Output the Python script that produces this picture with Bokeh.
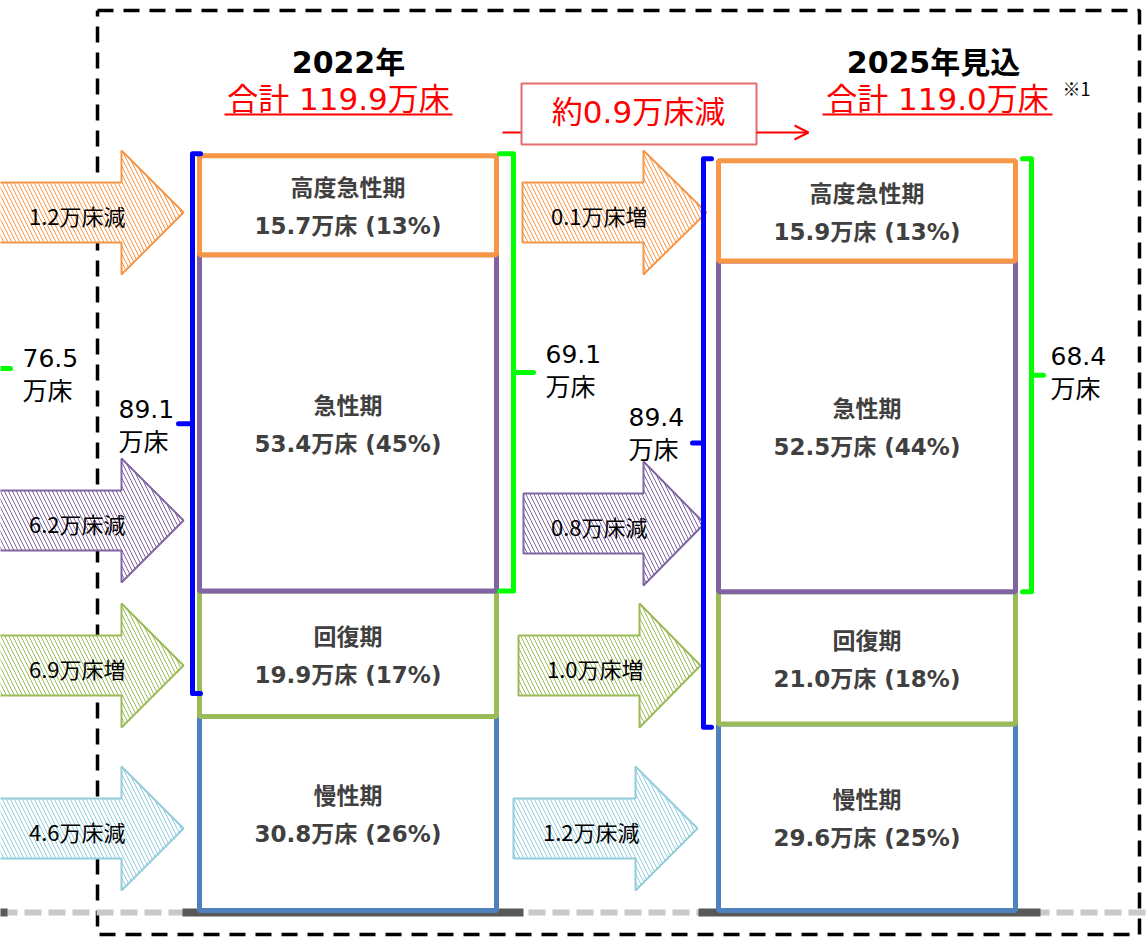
from bokeh.plotting import figure
from bokeh.models import Range1d, Arrow, OpenHead
from bokeh.core.properties import value
from bokeh.embed import file_html
from bokeh.resources import INLINE

# ---------------- data ----------------
years = ["2022年", "2025年見込"]
totals = [119.9, 119.0]
phases = ["慢性期", "回復期", "急性期", "高度急性期"]          # bottom -> top
beds_2022 = [30.8, 19.9, 53.4, 15.7]
beds_2025 = [29.6, 21.0, 52.5, 15.9]
pct_2022 = [26, 17, 45, 13]
pct_2025 = [25, 18, 44, 13]
acute_sum = [69.1, 68.4]            # 高度急性期 + 急性期
acute_recov_sum = [89.1, 89.4]      # 高度急性期 + 急性期 + 回復期
prev_acute_sum = 76.5
change_to_2022 = [-4.6, 6.9, -6.2, -1.2]   # bottom -> top
change_to_2025 = [-1.2, 1.0, -0.8, 0.1]
total_change = -0.9
note = "※1"

# ---------------- style / layout ----------------
phase_colors = ["#4F81BD", "#9BBB59", "#8064A2", "#F79646"]
arrow_colors = ["#92CDDC", "#9BBB59", "#8064A2", "#F79646"]
BLUE = "#0000FF"
GREEN = "#00FF00"
RED = "#FF0000"
LBL = "#404040"
FONT = "DejaVu Sans, Noto Sans CJK JP"
CJK = "Noto Sans CJK JP"

S = 6.3          # px per 万床
BASE = 910       # baseline position (px from top)
W, H = 1146, 937


def Y(r):
    return (BASE - r) / S


BAR_X = [(199, 496), (718, 1015)]

p = figure(width=W, height=H, x_range=Range1d(0, W),
           y_range=Range1d(Y(H), Y(0)), x_axis_type=None, y_axis_type=None,
           toolbar_location=None, output_backend="svg", min_border=0,
           outline_line_color=None, background_fill_color="white")
p.grid.visible = False

# outer dashed frame
p.line([97, 1139, 1139, 97, 97], [Y(10), Y(10), Y(934), Y(934), Y(10)],
       line_color="black", line_width=3.5, line_dash="16 10")

# light dashed ground line
p.line([0, W], [Y(912), Y(912)], line_color="#C8C8C8", line_width=6, line_dash="17 7")
# dark bases
for b0, b1 in [(182, 523), (698, 1040), (-10, 7)]:
    p.line([b0, b1], [Y(912), Y(912)], line_color="#595959", line_width=8)

# stacked bars
for i, (beds, pcts) in enumerate([(beds_2022, pct_2022), (beds_2025, pct_2025)]):
    x0, x1 = BAR_X[i]
    cx = (x0 + x1) / 2
    bottoms, tops = [], []
    acc = 0.0
    for b in beds:
        bottoms.append(acc)
        acc += b
        tops.append(acc)
    p.quad(left=[x0] * 4, right=[x1] * 4, bottom=bottoms, top=tops,
           fill_color="white", line_color=phase_colors, line_width=5)
    mids = [(a + b) / 2 for a, b in zip(bottoms, tops)]
    p.text(x=[cx] * 4, y=[m + 17 / S for m in mids], text=phases,
           text_font=value(FONT), text_font_style="bold", text_font_size="23px",
           text_color=LBL, text_align="center", text_baseline="middle")
    p.text(x=[cx] * 4, y=[m - 21 / S for m in mids],
           text=[f"{b}万床 ({pc}%)" for b, pc in zip(beds, pcts)],
           text_font=value(FONT), text_font_style="bold", text_font_size="23px",
           text_color=LBL, text_align="center", text_baseline="middle")

# titles
title_x = [348, 933]
total_x = [338, 937]
underline = [(224, 452), (822, 1052)]
for i in range(2):
    p.text(x=[title_x[i]], y=[Y(62)], text=[years[i]], text_font=value(FONT),
           text_font_style="bold", text_font_size="30px", text_color="black",
           text_align="center", text_baseline="middle")
    p.text(x=[total_x[i]], y=[Y(98)], text=[f"合計 {totals[i]}万床"], text_font=value(FONT),
           text_font_size="31px", text_color=RED, text_align="center", text_baseline="middle")
    p.line(list(underline[i]), [Y(114), Y(114)], line_color=RED, line_width=2)
p.text(x=[1062], y=[Y(87)], text=[note], text_font=value(CJK), text_font_size="18px",
       text_color="black", text_align="left", text_baseline="middle")

# total change box and arrow
p.line([502, 521], [Y(132), Y(132)], line_color=RED, line_width=2)
p.add_layout(Arrow(end=OpenHead(size=14, line_color=RED, line_width=2),
                   x_start=756, y_start=Y(132), x_end=808, y_end=Y(132),
                   line_color=RED, line_width=2))
p.quad(left=[521], right=[756], top=[Y(83)], bottom=[Y(144)], fill_color="white",
       line_color="#E46C6C", line_width=2)
p.text(x=[638], y=[Y(111)], text=[f"約{abs(total_change)}万床減"], text_font=value(FONT),
       text_font_size="31px", text_color=RED, text_align="center", text_baseline="middle")

# block arrows
centers_left = [828, 665, 520, 212]
centers_mid = [828, 665, 523, 212]
left_geo = [(-10, 121, 183)] * 4
mid_geo = [(513, 635, 697), (518, 639, 700), (523, 643, 704), (522, 643, 706)]
HEAD, SHAFT = 62, 30


def block_arrows(changes, centers, geo):
    xs, ys = [], []
    for c, (xa, xh, xt) in zip(centers, geo):
        xs.append([xa, xh, xh, xt, xh, xh, xa])
        ys.append([Y(c - SHAFT), Y(c - SHAFT), Y(c - HEAD), Y(c), Y(c + HEAD),
                   Y(c + SHAFT), Y(c + SHAFT)])
    p.patches(xs, ys, fill_color="white", line_color=arrow_colors, line_width=2,
              hatch_pattern="\\", hatch_color=arrow_colors, hatch_scale=8, hatch_weight=1)
    p.text(x=[g[1] + 4 for g in geo], y=[Y(c + 2) for c in centers],
           text=[f"{abs(v):.1f}万床{'増' if v > 0 else '減'}" for v in changes],
           text_font=value(CJK), text_font_size="22px", text_color="black",
           text_align="right", text_baseline="middle")


block_arrows(change_to_2022, centers_left, left_geo)
block_arrows(change_to_2025, centers_mid, mid_geo)


# brackets
def bracket(x, top, bot, tick, nub, color):
    p.line([x + tick, x, x, x + tick], [top, top, bot, bot], line_color=color,
           line_width=5, line_join="round", line_cap="round")
    mid = (top + bot) / 2
    p.line([x, x + nub], [mid, mid], line_color=color, line_width=5, line_cap="round")


tot22, tot25 = sum(beds_2022), sum(beds_2025)
bracket(192, tot22 + 2 / S, Y(693), 8, -14, BLUE)
bracket(513, tot22 + 2 / S, tot22 - acute_sum[0], -14, 20, GREEN)
bracket(703, tot25 + 2 / S, tot25 - acute_recov_sum[1] - 0.5, 8, -11, BLUE)
bracket(1031, tot25 + 2 / S, tot25 - acute_sum[1], -9, 12, GREEN)
p.line([-5, 10], [Y(368), Y(368)], line_color=GREEN, line_width=5, line_cap="round")

# bracket labels
lab_vals = [prev_acute_sum, acute_recov_sum[0], acute_sum[0], acute_recov_sum[1], acute_sum[1]]
lab_x = [22, 118, 545, 628, 1050]
lab_y = [357, 408, 353, 416, 355]
p.text(x=lab_x, y=[Y(v) for v in lab_y], text=[f"{v}" for v in lab_vals],
       text_font=value(FONT), text_font_size="25px", text_color="black",
       text_align="left", text_baseline="middle")
p.text(x=lab_x, y=[Y(v + 31) for v in lab_y], text=["万床"] * 5,
       text_font=value(CJK), text_font_size="25px", text_color="black",
       text_align="left", text_baseline="middle")

open("out.html", "w").write(file_html(p, INLINE))
